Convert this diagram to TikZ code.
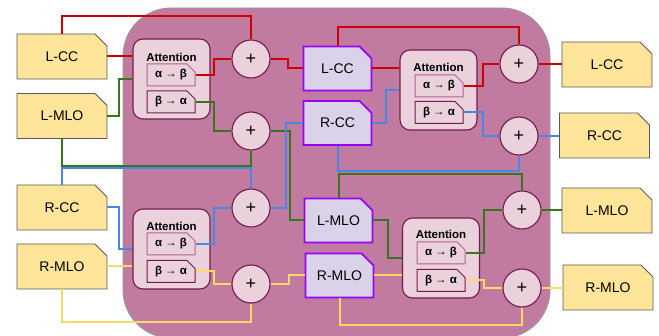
\documentclass[tikz,border=0pt]{standalone}
\usepackage{fontspec}
\setmainfont{Liberation Sans}
\usetikzlibrary{shapes.misc}
\definecolor{bgm}{HTML}{C27BA0}
\definecolor{attfill}{HTML}{EAD1DC}
\definecolor{maroon}{HTML}{741B47}
\definecolor{subedge}{HTML}{B5628E}
\definecolor{infill}{HTML}{FFE599}
\definecolor{inedge}{HTML}{595959}
\definecolor{midfill}{HTML}{D9D2E9}
\definecolor{midedge}{HTML}{9900FF}
\definecolor{cred}{HTML}{CC0000}
\definecolor{cgreen}{HTML}{38761D}
\definecolor{cblue}{HTML}{4A86E8}
\definecolor{cyellow}{HTML}{FFD966}
\begin{document}
\begin{tikzpicture}[x=1pt,y=-1pt,
  iobox/.style={chamfered rectangle, chamfered rectangle corners=north east,
    chamfered rectangle xsep=7pt, chamfered rectangle ysep=7pt,
    fill=infill, draw=inedge, line width=0.9pt, minimum width=90pt, minimum height=45pt,
    inner sep=0pt, font=\fontsize{14}{16}\selectfont},
  midbox/.style={chamfered rectangle, chamfered rectangle corners=north east,
    chamfered rectangle xsep=7pt, chamfered rectangle ysep=7pt,
    fill=midfill, draw=midedge, line width=1.8pt, minimum width=68pt, minimum height=44pt,
    inner sep=0pt, font=\fontsize{14}{16}\selectfont},
  attbox/.style={rectangle, rounded corners=10pt, fill=attfill, draw=maroon, line width=1.1pt,
    minimum width=77pt, minimum height=80pt, inner sep=0pt},
  subbox/.style={chamfered rectangle, chamfered rectangle corners=north east,
    chamfered rectangle xsep=4pt, chamfered rectangle ysep=4pt,
    fill=attfill, draw=#1, line width=1pt, minimum width=48pt, minimum height=22pt,
    inner sep=0pt, font=\fontsize{11.5}{13}\selectfont\bfseries},
  attlabel/.style={font=\fontsize{11.5}{13}\selectfont\bfseries, inner sep=0pt},
  plusnode/.style={circle, fill=attfill, draw=maroon, line width=1.1pt, minimum size=38pt,
    inner sep=0pt, font=\fontsize{18}{18}\selectfont},
  conn/.style={line width=2pt}
]
\useasboundingbox (0,0) rectangle (659,336);
\draw[fill=bgm, draw=gray!80, line width=0.9pt, rounded corners=48pt] (123,8) rectangle (550,338);

% input nodes
\node[iobox] (inLCC) at (62,56.5) {L-CC};
\node[iobox] (inLMLO) at (62,116) {L-MLO};
\node[iobox] (inRCC) at (62,207.5) {R-CC};
\node[iobox] (inRMLO) at (62,266.5) {R-MLO};
% output nodes
\node[iobox] (outLCC) at (607,64.5) {L-CC};
\node[iobox] (outRCC) at (604.5,135.5) {R-CC};
\node[iobox] (outLMLO) at (607,210.5) {L-MLO};
\node[iobox] (outRMLO) at (608,287.5) {R-MLO};
% middle nodes
\node[midbox] (mLCC) at (337.5,68.5) {L-CC};
\node[midbox] (mRCC) at (337.5,123) {R-CC};
\node[midbox] (mLMLO) at (338.5,220.5) {L-MLO};
\node[midbox] (mRMLO) at (339.5,275.5) {R-MLO};

% attention blocks
\node[attbox] (attA) at (171.5,79) {};
\node[attlabel] (attAl) at (171.5,57) {Attention};
\node[subbox=subedge] (attAab) at (171,75) {α → β};
\node[subbox=maroon] (attAba) at (171,102) {β → α};

\node[attbox] (attB) at (171.5,249) {};
\node[attlabel] (attBl) at (171.5,226) {Attention};
\node[subbox=subedge] (attBab) at (171,244) {α → β};
\node[subbox=maroon] (attBba) at (171,271.5) {β → α};

\node[attbox] (attC) at (438.5,90) {};
\node[attlabel] (attCl) at (438.5,67) {Attention};
\node[subbox=subedge] (attCab) at (439,86) {α → β};
\node[subbox=maroon] (attCba) at (439,112.5) {β → α};

\node[attbox] (attD) at (441,258) {};
\node[attlabel] (attDl) at (441,234) {Attention};
\node[subbox=subedge] (attDab) at (441,253) {α → β};
\node[subbox=maroon] (attDba) at (441,280.5) {β → α};

% plus nodes
\node[plusnode] (pA1) at (251,59) {+};
\node[plusnode] (pA2) at (251,131) {+};
\node[plusnode] (pA3) at (251,208) {+};
\node[plusnode] (pA4) at (251,284) {+};
\node[plusnode] (pB1) at (519,64) {+};
\node[plusnode] (pB2) at (519,136) {+};
\node[plusnode] (pB3) at (522,210) {+};
\node[plusnode] (pB4) at (522,288) {+};

% red
\begin{scope}[conn, cred]
\draw (inLCC.north) -- ++(0,-18) -| (pA1.north);
\draw (inLCC.east) -- (inLCC.east -| attA.west);
\draw (attAab.east) -- ++(18,0) |- (pA1.west);
\draw (pA1.east) -- ++(17,0) |- (mLCC.west);
\draw (mLCC.north) -- ++(0,-19) -| (pB1.north);
\draw (mLCC.east) -- (mLCC.east -| attC.west);
\draw (attCab.east) -- ++(19,0) |- (pB1.west);
\draw (pB1.east) -- (pB1.east -| outLCC.west);
\end{scope}
% green
\begin{scope}[conn, cgreen]
\draw (inLMLO.east) -- ++(12,0) |- (attA.west);
\draw (attAba.east) -- ++(18,0) |- (pA2.west);
\draw (inLMLO.south) -- ++(0,27) -| (pA2.south);
\draw (pA2.east) -- ++(19,0) |- (mLMLO.west);
\draw (mLMLO.north) -- ++(0,-24) -| (pB3.north);
\draw (mLMLO.east) -- ++(15,0) |- (attD.west);
\draw (attDab.east) -- ++(18,0) |- (pB3.west);
\draw (pB3.east) -- (pB3.east -| outLMLO.west);
\end{scope}
% blue
\begin{scope}[conn, cblue]
\draw (inRCC.north) -- ++(0,-17) -| (pA3.north);
\draw (inRCC.east) -- ++(12,0) |- (attB.west);
\draw (attBab.east) -- ++(18,0) |- (pA3.west);
\draw (pA3.east) -- ++(15,0) |- (mRCC.west);
\draw (mRCC.east) -- ++(14,0) |- (attC.west);
\draw (attCba.east) -- ++(19,0) |- (pB2.west);
\draw (mRCC.south) -- ++(0,25) -| (pB2.south);
\draw (pB2.east) -- (pB2.east -| outRCC.west);
\end{scope}
% yellow
\begin{scope}[conn, cyellow]
\draw (inRMLO.east) -- (inRMLO.east -| attB.west);
\draw (attBba.east) -- ++(18,0) |- (pA4.west);
\draw (inRMLO.south) -- ++(0,33) -| (pA4.south);
\draw (pA4.east) -- ++(18,0) |- (mRMLO.west);
\draw (mRMLO.east) -- (mRMLO.east -| attD.west);
\draw (mRMLO.south) -- ++(0,27) -| (pB4.south);
\draw (attDba.east) -- ++(18,0) |- (pB4.west);
\draw (pB4.east) -- (pB4.east -| outRMLO.west);
\end{scope}
\end{tikzpicture}
\end{document}
